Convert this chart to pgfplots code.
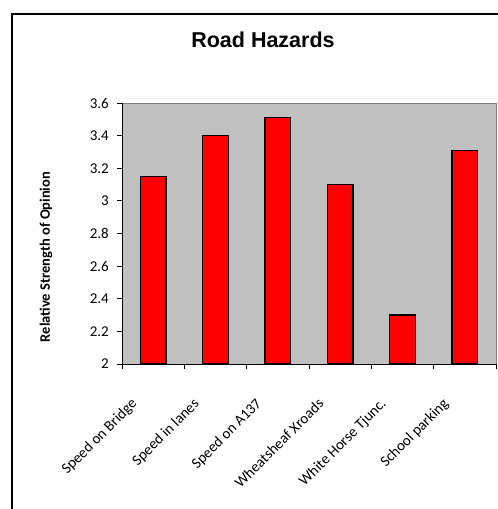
\documentclass[border=0pt]{standalone}
\usepackage{pgfplots}
\pgfplotsset{compat=1.18}
\usepackage{fontspec}
\setmainfont{Carlito}
\newfontfamily\titlefont{Liberation Sans}
\definecolor{plotgray}{RGB}{192,192,192}
\definecolor{framegray}{RGB}{128,128,128}
\begin{document}
\begin{tikzpicture}
\useasboundingbox (0pt,0pt) rectangle (498pt,509pt);
\fill[white] (0pt,0pt) rectangle (498pt,509pt);
\draw[line width=1.5pt] (12pt,0pt) -- (12pt,495pt) -- (498pt,495pt);
\begin{axis}[
  at={(122pt,145pt)}, anchor=south west,
  width=374pt, height=261pt, scale only axis,
  xmin=-0.5, xmax=5.5, ymin=2, ymax=3.6,
  ytick={2,2.2,2.4,2.6,2.8,3,3.2,3.4,3.6},
  yticklabels={2,2.2,2.4,2.6,2.8,3,3.2,3.4,3.6},
  xtick={0,1,2,3,4,5},
  xticklabels={Speed on Bridge,Speed in lanes,Speed on A137,Wheatsheaf Xroads,White Horse Tjunc.,School parking},
  minor xtick={-0.5,0.5,1.5,2.5,3.5,4.5,5.5},
  tick align=outside,
  major x tick style={draw=none},
  minor x tick style={black, line width=0.8pt},
  minor tick length=5pt,
  y tick style={black, line width=0.8pt},
  major tick length=5pt,
  axis x line*=bottom, axis y line*=left,
  axis line style={black, line width=0.9pt, -},
  axis background/.style={fill=plotgray, draw=framegray, line width=0.8pt},
  ticklabel style={font=\fontsize{15}{17}\selectfont},
  /pgf/number format/assume math mode=true,
  xticklabel style={xshift=-23pt, yshift=-28pt, rotate=45, anchor=north east, inner sep=0pt},
  yticklabel style={xshift=-5pt, inner sep=3pt},
  ylabel={Relative Strength of Opinion},
  ylabel style={at={(axis description cs:-0.2033,0.41)}, anchor=center, font=\bfseries\fontsize{14.5}{16}\selectfont},
  title={Road Hazards},
  title style={at={(axis description cs:0.377,1.218)}, anchor=center, font=\titlefont\bfseries\fontsize{21.5}{24}\selectfont},
  clip=false,
]
\addplot[ybar, bar width=25.6pt, fill=red, draw=black, line width=1.2pt]
  coordinates {(0,3.15) (1,3.40) (2,3.51) (3,3.10) (4,2.30) (5,3.31)};
\end{axis}
\end{tikzpicture}
\end{document}
